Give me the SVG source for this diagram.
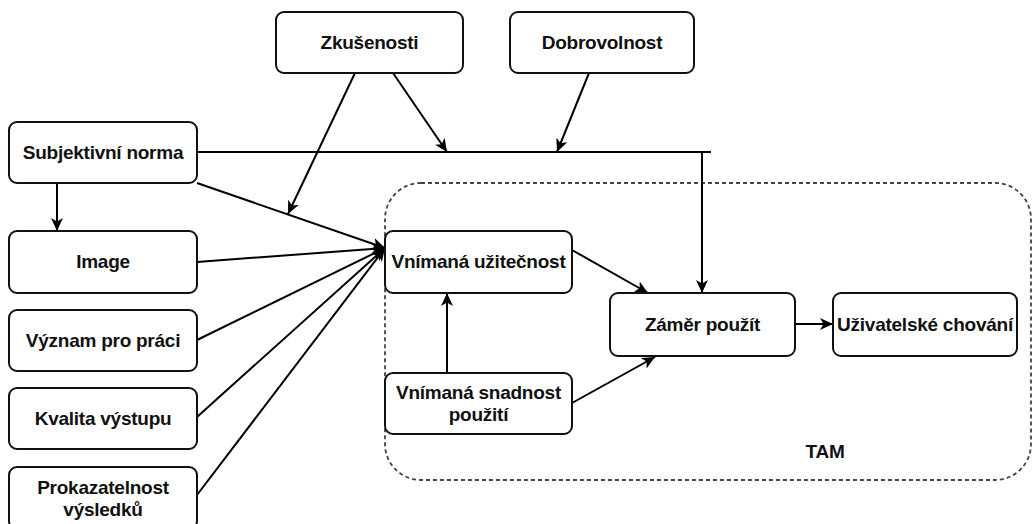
<svg xmlns="http://www.w3.org/2000/svg" width="1035" height="524" viewBox="0 0 1035 524">
<defs>
<marker id="arr" markerUnits="userSpaceOnUse" markerWidth="14" markerHeight="12" viewBox="0 0 14 12" refX="13" refY="6" orient="auto">
<path d="M0,0 L13,6 L0,12 L3.5,6 Z" fill="#000"/>
</marker>
<style>
.box{fill:#fff;stroke:#111;stroke-width:2}
.t{font-family:"Liberation Sans",Arial,sans-serif;font-size:19px;letter-spacing:-0.25px;font-weight:bold;fill:#111;text-anchor:middle}
.c{fill:none;stroke:#000;stroke-width:2}
.a{marker-end:url(#arr)}
</style>
</defs>
<rect width="1035" height="524" fill="#fff"/>
<g id="tam">
<rect x="385" y="183" width="646" height="297" rx="36" ry="36" fill="none" stroke="#444" stroke-width="1.8" stroke-dasharray="4 3"/>
<text class="t" x="825" y="458">TAM</text>
</g>
<g id="connectors">
<path class="c a" d="M57,183 L57,231"/>
<path class="c a" d="M197,183 L385,248"/>
<path class="c a" d="M197,262 L385,248"/>
<path class="c a" d="M197,340 L385,248"/>
<path class="c a" d="M197,417 L385,248"/>
<path class="c a" d="M197,495 L385,248"/>
<path class="c a" d="M355,73 L288,214"/>
<path class="c a" d="M393,73 L447,152"/>
<path class="c a" d="M589,73 L557,152"/>
<path class="c" d="M197,152 H711"/>
<path class="c a" d="M702,152 V293"/>
<path class="c a" d="M447,373 V293"/>
<path class="c a" d="M572,250 L648,293"/>
<path class="c a" d="M572,403 L655,357"/>
<path class="c a" d="M795,324 L833,324"/>
</g>
<g id="zkusenosti"><rect class="box" x="276" y="12" width="187" height="61" rx="8"/><text class="t" x="369.5" y="49">Zkušenosti</text></g>
<g id="dobrovolnost"><rect class="box" x="510" y="12" width="184" height="61" rx="8"/><text class="t" x="602" y="49">Dobrovolnost</text></g>
<g id="subjektivni"><rect class="box" x="9" y="122" width="188" height="61" rx="8"/><text class="t" x="103" y="159">Subjektivní norma</text></g>
<g id="image"><rect class="box" x="9" y="231" width="188" height="62" rx="8"/><text class="t" x="103" y="268">Image</text></g>
<g id="vyznam"><rect class="box" x="9" y="310" width="188" height="61" rx="8"/><text class="t" x="103" y="347">Význam pro práci</text></g>
<g id="kvalita"><rect class="box" x="9" y="388" width="188" height="61" rx="8"/><text class="t" x="103" y="425">Kvalita výstupu</text></g>
<g id="prokazatelnost"><rect class="box" x="9" y="467" width="188" height="62" rx="8"/><text class="t" x="103" y="494">Prokazatelnost</text><text class="t" x="103" y="516">výsledků</text></g>
<g id="uzitecnost"><rect class="box" x="385" y="231" width="187" height="62" rx="8"/><text class="t" x="478.5" y="268">Vnímaná užitečnost</text></g>
<g id="snadnost"><rect class="box" x="385" y="373" width="187" height="61" rx="8"/><text class="t" x="478.5" y="399">Vnímaná snadnost</text><text class="t" x="478.5" y="421">použití</text></g>
<g id="zamer"><rect class="box" x="610" y="293" width="185" height="63" rx="8"/><text class="t" x="702.5" y="331">Záměr použít</text></g>
<g id="chovani"><rect class="box" x="833" y="293" width="184" height="63" rx="8"/><text class="t" x="925" y="331">Uživatelské chování</text></g>
</svg>
